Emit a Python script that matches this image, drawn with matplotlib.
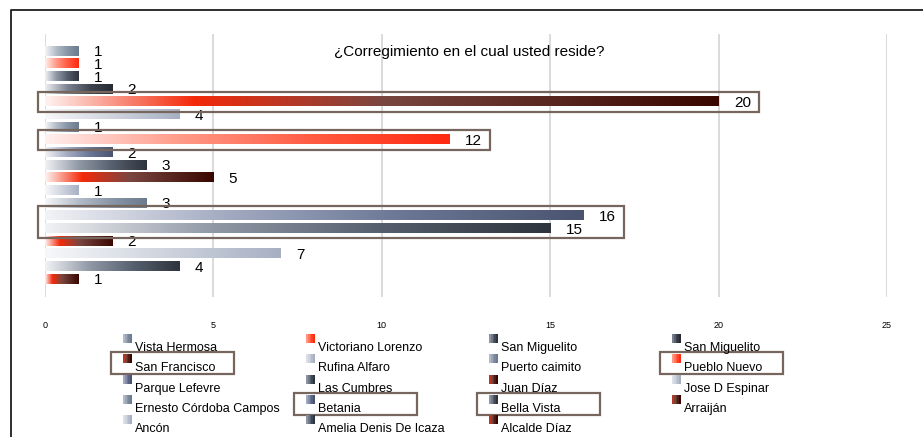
import numpy as np
import matplotlib.pyplot as plt
from matplotlib.colors import LinearSegmentedColormap
from matplotlib.patches import Rectangle
from matplotlib.lines import Line2D

plt.rcParams['font.family'] = ['Liberation Sans', 'DejaVu Sans']

# respuestas por corregimiento (orden de la encuesta)
corregimientos = ["Vista Hermosa", "Victoriano Lorenzo", "San Miguelito", "San Miguelito",
                  "San Francisco", "Rufina Alfaro", "Puerto caimito", "Pueblo Nuevo",
                  "Parque Lefevre", "Las Cumbres", "Juan Díaz", "Jose D Espinar",
                  "Ernesto Córdoba Campos", "Betania", "Bella Vista", "Arraiján",
                  "Ancón", "Amelia Denis De Icaza", "Alcalde Díaz"]
respuestas = [1, 1, 1, 2, 20, 4, 1, 12, 2, 3, 5, 1, 3, 16, 15, 2, 7, 4, 1]

# tono de cada serie y grupos resaltados
tonos = ["acero", "rojo", "pizarra", "oscuro", "granate", "claro",
         "acero", "rojo", "azul", "pizarra", "granate", "claro",
         "acero", "azul", "pizarra", "granate", "claro", "pizarra", "granate"]
grupos = [[4], [7], [13, 14]]

paletas = {
    "acero": ["#f5f6f8", "#b3bcc8", "#8795a6", "#6c7b8d"],
    "rojo": ["#fff0ee", "#ff9a88", "#ff5a40", "#ff2a10"],
    "pizarra": ["#f1f2f4", "#9098a6", "#555e6c", "#2e343d"],
    "oscuro": ["#eeeff1", "#7b8290", "#3f4550", "#262a31"],
    "granate": [(0, "#fff2f0"), (0.22, "#f42a0a"), (0.5, "#7a4640"), (1, "#3a0600")],
    "claro": ["#f7f8fa", "#cfd4de", "#a7b0c3"],
    "azul": ["#f2f3f6", "#a3abc2", "#6a7694", "#4a5470"],
}
cmaps = {k: LinearSegmentedColormap.from_list(k, v) for k, v in paletas.items()}
borde = "#76665e"

W, H = 923, 437
fig = plt.figure(figsize=(W / 100, H / 100), dpi=100)
ax = fig.add_axes([45 / W, 1 - 297 / H, 842 / W, 263 / H])

pos = np.arange(len(respuestas))
barras = ax.barh(pos, respuestas, height=0.72, color="none")
grad = np.linspace(0, 1, 256).reshape(1, -1)
for b, tono in zip(barras, tonos):
    x0, y0 = b.get_x(), b.get_y()
    ax.imshow(grad, cmap=cmaps[tono], aspect="auto", interpolation="bilinear",
              extent=(x0, x0 + b.get_width(), y0, y0 + b.get_height()), zorder=2)

for i, v in enumerate(respuestas):
    ax.annotate(str(v), (v, i), xytext=(11, -1), textcoords="offset points",
                va="center", ha="left", fontsize=11, zorder=5)

for g in grupos:
    top = min(g) - 0.77
    bot = max(g) + 0.8
    right = max(respuestas[i] for i in g) + 1.2
    ax.add_patch(Rectangle((-0.2, top), right + 0.2, bot - top, fill=False,
                           ec=borde, lw=1.6, clip_on=False, zorder=6))

ax.set_xlim(0, 25)
ax.set_ylim(18 + 1.42, -1.34)
ax.set_xticks(range(0, 26, 5))
ax.set_yticks([])
ax.tick_params(axis="x", length=0, pad=17, labelsize=6.5)
ax.grid(axis="x", color="#d4d4d4", lw=1.2)
ax.set_axisbelow(True)
for s in ax.spines.values():
    s.set_visible(False)

fig.text(469 / W, 1 - 52 / H, "¿Corregimiento en el cual usted reside?",
         ha="center", va="center", fontsize=11)

# leyenda en 4 columnas, por filas
destacados = [k for g in grupos for k in g]
for k, nombre in enumerate(corregimientos):
    r, c = divmod(k, 4)
    xt = 135 + c * 183
    base = 351 + r * 20.3
    fig.text(xt / W, 1 - base / H, nombre, fontsize=9, va="baseline", ha="left")
    cols = cmaps[tonos[k]](np.linspace(0.35, 1, 5))
    for j, col in enumerate(cols):
        fig.add_artist(Rectangle(((xt - 12 + j * 1.8) / W, 1 - (base - 8) / H), 1.9 / W, 9 / H,
                                 transform=fig.transFigure, fc=col, ec="none"))
    if k in destacados:
        fig.add_artist(Rectangle(((xt - 24) / W, 1 - (base + 3) / H), 123 / W, 22 / H,
                                 transform=fig.transFigure, fill=False, ec=borde, lw=1.6))

fig.add_artist(Line2D([11 / W, 11 / W, 1], [0, 1 - 10 / H, 1 - 10 / H],
                      transform=fig.transFigure, color="#1e1e1e", lw=1.3))

fig.savefig("out.png", dpi=100)
